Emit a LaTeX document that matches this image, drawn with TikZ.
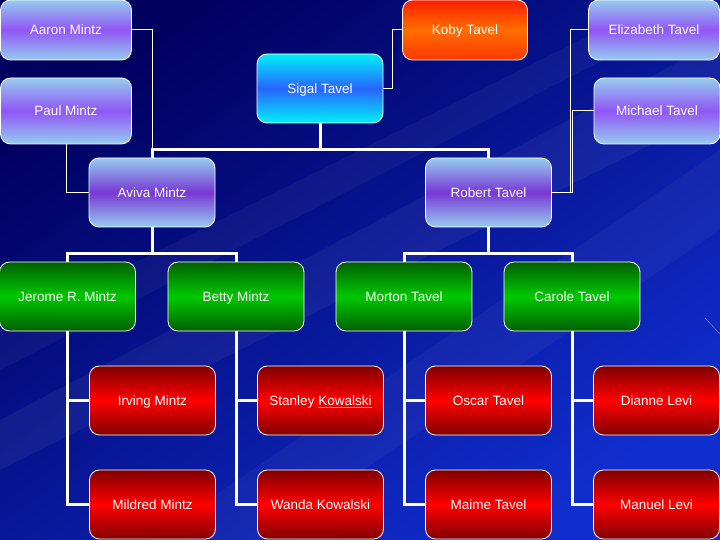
\documentclass[tikz,border=0pt]{standalone}
\usepackage{fontspec}
\setmainfont{Liberation Sans}
\definecolor{bgdark}{RGB}{0,0,95}
\definecolor{bglight}{RGB}{16,45,205}
\definecolor{skyblu}{RGB}{150,204,240}
\definecolor{violetmid}{RGB}{145,85,245}
\definecolor{purplemid}{RGB}{120,55,212}
\definecolor{cyanedge}{RGB}{0,240,250}
\definecolor{cyanmid}{RGB}{40,100,255}
\definecolor{kobytop}{RGB}{255,30,0}
\definecolor{kobymid}{RGB}{255,110,0}
\definecolor{kobybot}{RGB}{255,55,0}
\definecolor{greenedge}{RGB}{0,95,0}
\definecolor{greenmid}{RGB}{0,200,0}
\definecolor{rededge}{RGB}{128,0,0}
\definecolor{redmid}{RGB}{255,0,0}
\definecolor{linkpink}{RGB}{240,160,180}
\newcommand{\pinkline}[1]{\textcolor{linkpink}{\underline{\textcolor{white}{#1}}}}

\begin{document}
\begin{tikzpicture}[x=1pt,y=-1pt,
  person/.style={rectangle,rounded corners=10pt,draw=white,line width=0.8pt,text=white,
    inner sep=0pt,minimum width=126pt,minimum height=69pt,text height=9.7pt,text depth=0pt,
    font=\fontsize{13.5}{16}\selectfont},
  grand/.style={person,top color=skyblu,bottom color=skyblu,middle color=violetmid},
  parent/.style={person,top color=skyblu,bottom color=skyblu,middle color=purplemid},
  sigalbox/.style={person,top color=cyanedge,bottom color=cyanedge,middle color=cyanmid},
  kobybox/.style={person,top color=kobytop,bottom color=kobybot,middle color=kobymid},
  child/.style={person,minimum width=136pt,top color=greenedge,bottom color=greenedge,middle color=greenmid},
  grandchild/.style={person,top color=rededge,bottom color=rededge,middle color=redmid},
  link/.style={draw=white,line width=3pt},
  wire/.style={draw=white,line width=1pt}]
  \useasboundingbox (0,0) rectangle (720,540);
  \shade[top color=bgdark,bottom color=bglight,shading angle=35] (0,0) rectangle (720,540);
  % faint streaks
  \fill[white,opacity=.05] (720,40) -- (720,110) -- (0,470) -- (0,420) -- cycle;
  \fill[white,opacity=.04] (720,150) -- (720,230) -- (260,540) -- (150,540) -- cycle;
  \fill[white,opacity=.04] (720,0) -- (660,0) -- (0,330) -- (0,370) -- cycle;
  \draw[violetmid!60!white,opacity=.8] (705,318) -- (720,334);

  % top row
  \node[grand,minimum width=131pt,minimum height=60pt] (aaron) at (66,30) {Aaron Mintz};
  \node[grand,minimum width=131pt,minimum height=66pt] (paul) at (66,111) {Paul Mintz};
  \node[kobybox,minimum width=125pt,minimum height=60pt] (koby) at (465,30) {Koby Tavel};
  \node[sigalbox] (sigal) at (320,88.5) {Sigal Tavel};
  \node[grand,minimum width=131pt,minimum height=60pt] (elizabeth) at (654,30) {Elizabeth Tavel};
  \node[grand,minimum height=66pt] (michael) at (657,111) {Michael Tavel};
  % parents
  \node[parent] (aviva) at (152,192.5) {Aviva Mintz};
  \node[parent] (robert) at (488.5,192.5) {Robert Tavel};
  % children
  \node[child] (jerome) at (67.5,296.5) {Jerome R. Mintz};
  \node[child] (betty) at (236,296.5) {Betty Mintz};
  \node[child] (morton) at (404,296.5) {Morton Tavel};
  \node[child] (carole) at (572,296.5) {Carole Tavel};
  % grandchildren
  \node[grandchild] (irving) at (152.5,400.5) {Irving Mintz};
  \node[grandchild] (stanley) at (320.5,400.5) {Stanley \pinkline{Kowalski}};
  \node[grandchild] (oscar) at (488.5,400.5) {Oscar Tavel};
  \node[grandchild] (dianne) at (656.5,400.5) {Dianne Levi};
  \node[grandchild] (mildred) at (152.5,504.5) {Mildred Mintz};
  \node[grandchild] (wanda) at (320.5,504.5) {Wanda Kowalski};
  \node[grandchild] (maime) at (488.5,504.5) {Maime Tavel};
  \node[grandchild] (manuel) at (656.5,504.5) {Manuel Levi};

  \coordinate (bar) at (320,150);
  \coordinate (avbar) at (152,253);
  \coordinate (robar) at (488.5,253);

  \draw[wire] (aaron.east) -| (aviva.north);
  \draw[wire] (paul.south) |- (aviva.west);
  \draw[wire] (koby.west) -- ++(-10,0) |- (sigal.east);
  \draw[wire] (elizabeth.west) -- ++(-18,0) |- (robert.east);
  \draw[wire] (michael.west) -- ++(-21,0) |- (robert.east);
  \draw[link] (sigal) -- (bar);
  \draw[link] (aviva.north) |- (bar) -| (robert.north);
  \draw[link] (aviva) -- (avbar);
  \draw[link] (jerome.north) |- (avbar) -| (betty.north);
  \draw[link] (robert) -- (robar);
  \draw[link] (morton.north) |- (robar) -| (carole.north);
  \draw[link] (jerome.south) |- (irving.west);
  \draw[link] (jerome.south) |- (mildred.west);
  \draw[link] (betty.south) |- (stanley.west);
  \draw[link] (betty.south) |- (wanda.west);
  \draw[link] (morton.south) |- (oscar.west);
  \draw[link] (morton.south) |- (maime.west);
  \draw[link] (carole.south) |- (dianne.west);
  \draw[link] (carole.south) |- (manuel.west);
\end{tikzpicture}
\end{document}
